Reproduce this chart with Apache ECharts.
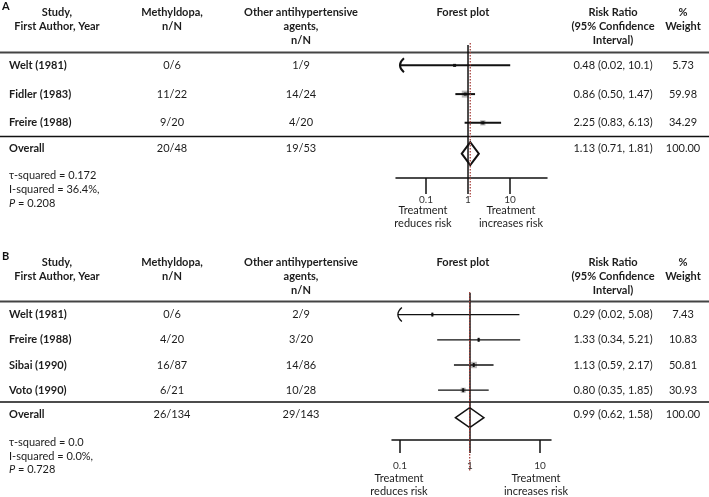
<!DOCTYPE html>
<html>
<head>
<meta charset="utf-8">
<script src="https://cdn.jsdelivr.net/npm/echarts@6/dist/echarts.min.js"></script>
<style>
  html, body { margin: 0; padding: 0; background: #fff; }
  #chart { width: 709px; height: 497px; }
</style>
</head>
<body>
<div id="chart"></div>
<script>
  // panel A data
  const studiesA = ['Welt (1981)', 'Fidler (1983)', 'Freire (1988)']
  const methylA = ['0/6', '11/22', '9/20']
  const otherA = ['1/9', '14/24', '4/20']
  const rrA = [0.48, 0.86, 2.25]
  const lowA = [0.02, 0.50, 0.83]
  const highA = [10.1, 1.47, 6.13]
  const weightA = [5.73, 59.98, 34.29]
  const totalA = ['20/48', '19/53']
  const overallA = [1.13, 0.71, 1.81] // estimate, low, high
  const statsA = ['0.172', '36.4%', '0.208'] // tau2, I2, P

  // panel B data
  const studiesB = ['Welt (1981)', 'Freire (1988)', 'Sibai (1990)', 'Voto (1990)']
  const methylB = ['0/6', '4/20', '16/87', '6/21']
  const otherB = ['2/9', '3/20', '14/86', '10/28']
  const rrB = [0.29, 1.33, 1.13, 0.80]
  const lowB = [0.02, 0.34, 0.59, 0.35]
  const highB = [5.08, 5.21, 2.17, 1.85]
  const weightB = [7.43, 10.83, 50.81, 30.93]
  const totalB = ['26/134', '29/143']
  const overallB = [0.99, 0.62, 1.58]
  const statsB = ['0.0', '0.0%', '0.728']

  const tickValues = [0.1, 1, 10]
  const tickLabels = ['0.1', '1', '10']

  const FONT = 'Lato'
  const TXT = '#1c1c1c'
  const COL = { study: 9, methyl: 172, other: 301, forest: 463, rr: 613, weight: 683 }

  const fmt = v => v >= 10 ? v.toFixed(1) : v.toFixed(2)
  const lg = v => Math.log10(v)

  const panels = [{
    letter: 'A', off: 0,
    studies: studiesA, methyl: methylA, other: otherA, rr: rrA, low: lowA, high: highA,
    weight: weightA, total: totalA, overall: overallA, stats: statsA,
    grid: { left: 396, top: 51, width: 151, height: 127 },
    xMin: -1.714, xMax: 1.88, yMax: 3.92,
    overallRow: 2.9, diamondShift: 5, diamondH: 23, ciWidth: 2, diamondWidth: 2,
    clipLow: -1.62, lineTop: 45, dotTop: 43, dotBottom: 197,
    tickLen: 16, labelMargin: 17, marker: [3, 3],
    sepTop: 52.5, sepBottom: 136.5,
    statY: [175, 189, 203], treatY: 204, treatX: [423, 511]
  }, {
    letter: 'B', off: 250,
    studies: studiesB, methyl: methylB, other: otherB, rr: rrB, low: lowB, high: highB,
    weight: weightB, total: totalB, overall: overallB, stats: statsB,
    grid: { left: 392, top: 302, width: 159, height: 138 },
    xMin: -1.114, xMax: 1.157, yMax: 4.976,
    overallRow: 3.97, diamondShift: 3, diamondH: 20, ciWidth: 1.3, diamondWidth: 1.5,
    clipLow: -1.03, lineTop: 293, dotTop: 292, dotBottom: 472,
    tickLen: 13, labelMargin: 21, marker: [2, 4],
    sepTop: 301.5, sepBottom: 402,
    statY: [442, 456, 469], treatY: 472, treatX: [399, 536]
  }]

  const grids = [], xAxes = [], yAxes = [], series = [], graphics = []

  panels.forEach((p, k) => {
    grids.push(Object.assign({ containLabel: false }, p.grid))
    xAxes.push({
      type: 'value', gridIndex: k, min: p.xMin, max: p.xMax,
      axisLine: { show: true, onZero: false, lineStyle: { color: '#111', width: 1.5 } },
      axisTick: { show: true, customValues: tickValues.map(lg), length: p.tickLen, lineStyle: { color: '#111', width: 1.5 } },
      axisLabel: {
        customValues: tickValues.map(lg), margin: p.labelMargin,
        fontFamily: FONT, fontSize: 10, color: '#333',
        formatter: v => tickLabels[tickValues.findIndex(t => Math.abs(lg(t) - v) < 1e-6)]
      },
      splitLine: { show: false }
    })
    yAxes.push({ type: 'value', gridIndex: k, inverse: true, min: -0.5, max: p.yMax, show: false })

    // table text in rows
    const rows = p.studies.map((s, i) => [0, i]).concat([[0, p.overallRow]])
    series.push({
      type: 'custom', xAxisIndex: k, yAxisIndex: k, clip: false, silent: true,
      data: rows,
      renderItem: (params, api) => {
        const i = params.dataIndex
        const y = api.coord([0, api.value(1)])[1]
        const isTotal = i === p.studies.length
        const cells = isTotal
          ? [['Overall', COL.study, 'left', true], [p.total[0], COL.methyl, 'center'], [p.total[1], COL.other, 'center'],
             [fmt(p.overall[0]) + ' (' + fmt(p.overall[1]) + ', ' + fmt(p.overall[2]) + ')', COL.rr, 'center'],
             ['100.00', COL.weight, 'center']]
          : [[p.studies[i], COL.study, 'left', true], [p.methyl[i], COL.methyl, 'center'], [p.other[i], COL.other, 'center'],
             [fmt(p.rr[i]) + ' (' + fmt(p.low[i]) + ', ' + fmt(p.high[i]) + ')', COL.rr, 'center'],
             [p.weight[i].toFixed(2), COL.weight, 'center']]
        return {
          type: 'group',
          children: cells.map(c => ({
            type: 'text', x: c[1], y: y,
            style: { text: c[0], fill: TXT, font: (c[3] ? 'bold ' : '') + '11px ' + FONT, align: c[2], verticalAlign: 'middle' }
          }))
        }
      }
    })

    // confidence intervals
    series.push({
      type: 'custom', xAxisIndex: k, yAxisIndex: k, clip: false, silent: true,
      data: p.studies.map((s, i) => [i, lg(p.rr[i]), lg(p.low[i]), lg(p.high[i]), p.weight[i]]),
      renderItem: (params, api) => {
        const row = api.value(0), est = api.value(1), lo = api.value(2), hi = api.value(3), w = api.value(4)
        const clipped = lo < p.clipLow
        const a = api.coord([clipped ? p.clipLow : lo, row])
        const b = api.coord([hi, row])
        const e = api.coord([est, row])
        const side = 0.9 * Math.sqrt(w)
        const children = [
          { type: 'rect', shape: { x: e[0] - side / 2, y: e[1] - side / 2, width: side, height: side }, style: { fill: '#b8b8b8' } },
          { type: 'line', shape: { x1: a[0], y1: a[1], x2: b[0], y2: b[1] }, style: { stroke: '#111', lineWidth: p.ciWidth } },
          { type: 'rect', shape: { x: e[0] - p.marker[0] / 2, y: e[1] - p.marker[1] / 2, width: p.marker[0], height: p.marker[1] }, style: { fill: '#111' } }
        ]
        if (clipped) {
          children.push({
            type: 'bezierCurve',
            shape: { x1: a[0] + 4, y1: a[1] - 7, cpx1: a[0] - 4, cpy1: a[1], x2: a[0] + 4, y2: a[1] + 7 },
            style: { stroke: '#111', lineWidth: p.ciWidth, fill: null }
          })
        }
        return { type: 'group', children: children }
      }
    })

    // pooled estimate diamond
    series.push({
      type: 'custom', xAxisIndex: k, yAxisIndex: k, clip: false, silent: true,
      data: [[p.overallRow, lg(p.overall[0]), lg(p.overall[1]), lg(p.overall[2])]],
      renderItem: (params, api) => {
        const row = api.value(0)
        const e = api.coord([api.value(1), row])
        const lo = api.coord([api.value(2), row])
        const hi = api.coord([api.value(3), row])
        const y = e[1] + p.diamondShift, h = p.diamondH / 2
        return {
          type: 'polygon',
          shape: { points: [[lo[0], y], [e[0], y - h], [hi[0], y], [e[0], y + h]] },
          style: { stroke: '#111', lineWidth: p.diamondWidth, fill: '#fff' }
        }
      }
    })

    // null line at 1 and dotted line at pooled estimate
    series.push({
      type: 'custom', xAxisIndex: k, yAxisIndex: k, clip: false, silent: true, z: 5,
      data: [[0, lg(p.overall[0])]],
      renderItem: (params, api) => {
        const x1 = api.coord([api.value(0), 0])[0]
        const x2 = api.coord([api.value(1), 0])[0]
        const bottom = p.grid.top + p.grid.height
        return {
          type: 'group',
          children: [
            { type: 'line', shape: { x1: x1, y1: p.lineTop, x2: x1, y2: bottom }, style: { stroke: '#111', lineWidth: 1.5 } },
            { type: 'line', shape: { x1: x2, y1: p.dotTop, x2: x2, y2: p.dotBottom }, style: { stroke: '#a8443f', lineWidth: 1.3, lineDash: [1.5, 1.5] }, z2: 10 }
          ]
        }
      }
    })

    // header, separators, stats, direction labels
    const o = p.off
    const head = (x, txt, align) => ({
      type: 'text', x: x, y: o + 6,
      style: { text: txt, fill: TXT, font: 'bold 11px ' + FONT, align: align || 'center', verticalAlign: 'top', lineHeight: 13.8 }
    })
    graphics.push(
      { type: 'text', x: 2, y: o + 1, style: { text: p.letter, fill: '#111', font: 'bold 11px ' + FONT, align: 'left', verticalAlign: 'top' } },
      head(57, 'Study,\nFirst Author, Year'),
      head(COL.methyl, 'Methyldopa,\nn/N'),
      head(COL.other, 'Other antihypertensive\nagents,\nn/N'),
      head(COL.forest, 'Forest plot'),
      head(COL.rr, 'Risk Ratio\n(95% Confidence\nInterval)'),
      head(COL.weight, '%\nWeight'),
      { type: 'line', shape: { x1: 0, y1: p.sepTop, x2: 709, y2: p.sepTop }, style: { stroke: '#444', lineWidth: 2 } },
      { type: 'line', shape: { x1: 0, y1: p.sepBottom, x2: 709, y2: p.sepBottom }, style: { stroke: '#111', lineWidth: 1.5 } },
      { type: 'text', x: COL.study, y: p.statY[0], style: { text: '\u03c4-squared = ' + p.stats[0], fill: TXT, font: '11px ' + FONT, verticalAlign: 'middle' } },
      { type: 'text', x: COL.study, y: p.statY[1], style: { text: 'I-squared = ' + p.stats[1] + ',', fill: TXT, font: '11px ' + FONT, verticalAlign: 'middle' } },
      { type: 'text', x: COL.study, y: p.statY[2], style: {
        text: '{it|P} = ' + p.stats[2], fill: TXT, font: '11px ' + FONT, verticalAlign: 'middle',
        rich: { it: { fontStyle: 'italic', fontFamily: FONT, fontSize: 11, fill: TXT } }
      } },
      { type: 'text', x: p.treatX[0], y: p.treatY, style: { text: 'Treatment\nreduces risk', fill: TXT, font: '11px ' + FONT, align: 'center', verticalAlign: 'top', lineHeight: 13 } },
      { type: 'text', x: p.treatX[1], y: p.treatY, style: { text: 'Treatment\nincreases risk', fill: TXT, font: '11px ' + FONT, align: 'center', verticalAlign: 'top', lineHeight: 13 } }
    )
  })

  const chart = echarts.init(document.getElementById('chart'))
  chart.setOption({
    animation: false,
    backgroundColor: '#fff',
    grid: grids,
    xAxis: xAxes,
    yAxis: yAxes,
    series: series,
    graphic: graphics
  })
</script>
</body>
</html>
